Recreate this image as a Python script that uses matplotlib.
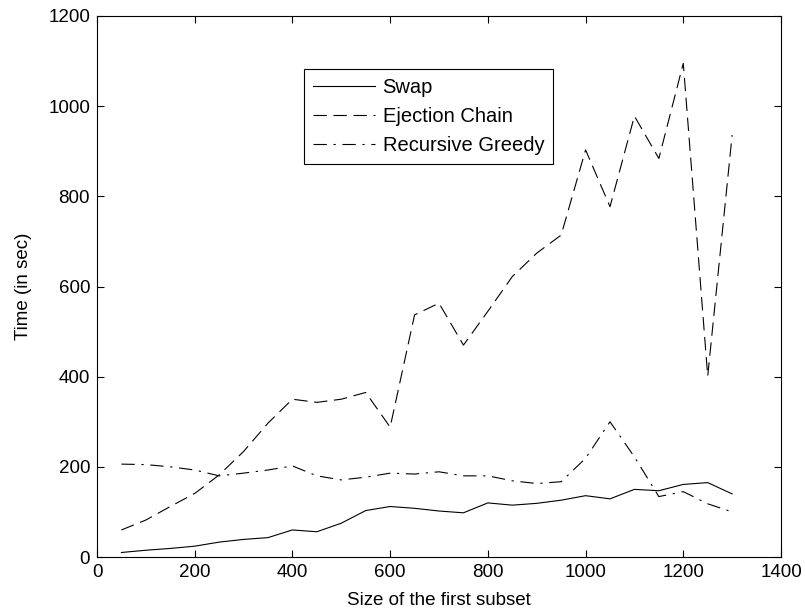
import matplotlib
matplotlib.use("Agg")
import matplotlib.pyplot as plt

plt.rcParams['font.family'] = ['Liberation Sans', 'DejaVu Sans']

# subset sizes
sizes = [50, 100, 150, 200, 250, 300, 350, 400, 450, 500, 550, 600, 650,
         700, 750, 800, 850, 900, 950, 1000, 1050, 1100, 1150, 1200, 1250, 1300]

swap = [10, 15, 19, 24, 33, 39, 43, 60, 56, 75, 103, 112, 108,
        102, 98, 120, 115, 119, 126, 136, 129, 150, 147, 161, 165, 140]

ejection = [60, 82, 112, 141, 182, 234, 297, 350, 343, 350, 365, 288, 537,
            563, 470, 545, 622, 674, 714, 903, 777, 978, 884, 1095, 401, 936]

greedy = [206, 205, 200, 193, 180, 186, 193, 202, 180, 171, 177, 186, 184,
          189, 180, 180, 169, 163, 167, 219, 300, 222, 134, 145, 118, 100]

fs = 13.5

fig = plt.figure(figsize=(8.05, 6.15), dpi=100)
ax = fig.add_axes([97 / 805, 1 - 557 / 615, 684 / 805, 541 / 615])

lw = 0.8
ax.plot(sizes, swap, color='black', linewidth=lw, linestyle='-', label='Swap')
ax.plot(sizes, ejection, color='black', linewidth=lw, linestyle=(0, (12, 6)),
        label='Ejection Chain')
ax.plot(sizes, greedy, color='black', linewidth=lw, linestyle=(0, (12, 6, 2, 6)),
        label='Recursive Greedy')

ax.set_xlim(0, 1400)
ax.set_ylim(0, 1200)
ax.set_xticks(range(0, 1401, 200))
ax.set_yticks(range(0, 1201, 200))
ax.tick_params(direction='in', top=True, right=True, length=5, width=0.8,
               labelsize=fs, pad=5)
for s in ax.spines.values():
    s.set_linewidth(0.8)

ax.set_xlabel('Size of the first subset', fontsize=fs, labelpad=8)
ax.set_ylabel('Time (in sec)', fontsize=fs, labelpad=12)

leg = ax.legend(loc='upper left', bbox_to_anchor=(0.3026, 0.902), fontsize=14.5,
                handlelength=3.1, handletextpad=0.35, borderpad=0.45,
                labelspacing=0.5, fancybox=False, framealpha=1,
                edgecolor='black', borderaxespad=0)
leg.get_frame().set_linewidth(0.8)

fig.savefig('out.png', dpi=100)
